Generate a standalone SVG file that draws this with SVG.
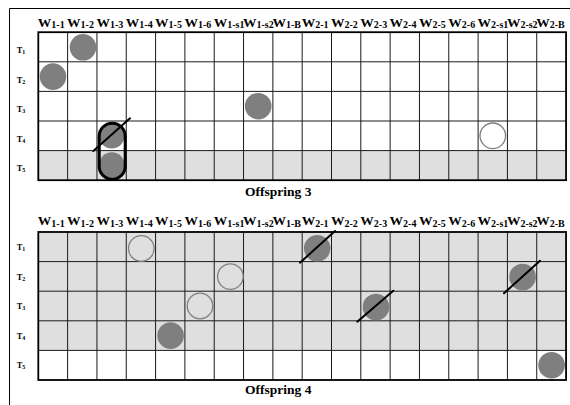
<svg xmlns="http://www.w3.org/2000/svg" width="570" height="405" viewBox="0 0 570 405">
  <style>
    .frame { fill: none; stroke: #000; stroke-width: 1; }
    .shade { fill: #dfdfdf; }
    .grid { stroke: #1a1a1a; stroke-width: 1; fill: none; }
    .border { fill: none; stroke: #000; stroke-width: 1.8; }
    .hdr { font-family: "Liberation Serif", "Times New Roman", serif; font-weight: bold; font-size: 13.5px; fill: #000; }
    .sub { font-size: 10px; }
    .row { font-family: "Liberation Serif", "Times New Roman", serif; font-weight: bold; font-size: 8.5px; fill: #000; }
    .rsub { font-size: 6px; }
    .title { font-family: "Liberation Serif", "Times New Roman", serif; font-weight: bold; font-size: 13.5px; fill: #000; }
    .dot { fill: #7f7f7f; }
    .ring { fill: none; stroke: #808080; stroke-width: 1.3; }
    .cut { stroke: #000; stroke-width: 2; stroke-linecap: round; }
    .pair { fill: none; stroke: #000; stroke-width: 3; }
  </style>
  <defs>
    <!-- 18 columns x 5 rows, cell 29.32 x 29.6 -->
    <g id="gridlines">
      <path class="grid" d="M67.62 0V148M96.94 0V148M126.26 0V148M155.58 0V148M184.9 0V148M214.22 0V148M243.54 0V148M272.86 0V148M302.18 0V148M331.5 0V148M360.82 0V148M390.14 0V148M419.46 0V148M448.78 0V148M478.1 0V148M507.42 0V148M536.74 0V148M38.3 29.6H566M38.3 59.2H566M38.3 88.8H566M38.3 118.4H566"/>
      <rect class="border" x="38.3" y="0" width="527.76" height="148"/>
    </g>
    <g id="colheads">
      <text class="hdr" x="37.8">W<tspan class="sub" dy="1.5">1-1</tspan></text>
      <text class="hdr" x="67.1">W<tspan class="sub" dy="1.5">1-2</tspan></text>
      <text class="hdr" x="96.4">W<tspan class="sub" dy="1.5">1-3</tspan></text>
      <text class="hdr" x="125.8">W<tspan class="sub" dy="1.5">1-4</tspan></text>
      <text class="hdr" x="155.1">W<tspan class="sub" dy="1.5">1-5</tspan></text>
      <text class="hdr" x="184.4">W<tspan class="sub" dy="1.5">1-6</tspan></text>
      <text class="hdr" x="213.7">W<tspan class="sub" dy="1.5">1-s1</tspan></text>
      <text class="hdr" x="243.0">W<tspan class="sub" dy="1.5">1-s2</tspan></text>
      <text class="hdr" x="272.4">W<tspan class="sub" dy="1.5">1-B</tspan></text>
      <text class="hdr" x="301.7">W<tspan class="sub" dy="1.5">2-1</tspan></text>
      <text class="hdr" x="331.0">W<tspan class="sub" dy="1.5">2-2</tspan></text>
      <text class="hdr" x="360.3">W<tspan class="sub" dy="1.5">2-3</tspan></text>
      <text class="hdr" x="389.6">W<tspan class="sub" dy="1.5">2-4</tspan></text>
      <text class="hdr" x="419.0">W<tspan class="sub" dy="1.5">2-5</tspan></text>
      <text class="hdr" x="448.3">W<tspan class="sub" dy="1.5">2-6</tspan></text>
      <text class="hdr" x="477.6">W<tspan class="sub" dy="1.5">2-s1</tspan></text>
      <text class="hdr" x="506.9">W<tspan class="sub" dy="1.5">2-s2</tspan></text>
      <text class="hdr" x="536.2">W<tspan class="sub" dy="1.5">2-B</tspan></text>
    </g>
  </defs>

  <!-- outer frame (top and left edges visible) -->
  <path class="frame" d="M9.5 420V8.5H580"/>

  <!-- Offspring 3 -->
  <g id="offspring3">
    <rect class="shade" x="38.3" y="150.6" width="527.76" height="29.6"/>
    <use href="#gridlines" transform="translate(0 32.2)"/>
    <use href="#colheads" transform="translate(0 26.5)"/>
    <g id="rows3">
      <text class="row" x="16.7" y="53">T<tspan class="rsub" dy="1">1</tspan></text>
      <text class="row" x="16.7" y="82.6">T<tspan class="rsub" dy="1">2</tspan></text>
      <text class="row" x="16.7" y="111.6">T<tspan class="rsub" dy="1">3</tspan></text>
      <text class="row" x="16.7" y="141.6">T<tspan class="rsub" dy="1">4</tspan></text>
      <text class="row" x="16.7" y="171.2">T<tspan class="rsub" dy="1">5</tspan></text>
    </g>
    <g id="marks3">
      <circle class="dot" cx="83" cy="47.3" r="13.3"/>
      <circle class="dot" cx="53" cy="76.6" r="13.3"/>
      <circle class="dot" cx="258.2" cy="106.2" r="13.3"/>
      <circle class="dot" cx="111.8" cy="135.6" r="12.8"/>
      <circle class="dot" cx="111.8" cy="165" r="12.8"/>
      <circle class="ring" cx="492.8" cy="135.8" r="12.8"/>
      <rect class="pair" x="99.2" y="123.2" width="26" height="56" rx="13"/>
      <line class="cut" x1="93.3" y1="151" x2="130" y2="118.3"/>
    </g>
    <text class="title" x="245" y="196">Offspring 3</text>
  </g>

  <!-- Offspring 4 -->
  <g id="offspring4">
    <rect class="shade" x="38.3" y="232" width="527.76" height="118.4"/>
    <use href="#gridlines" transform="translate(0 232)"/>
    <use href="#colheads" transform="translate(0 225)"/>
    <g id="rows4">
      <text class="row" x="16.7" y="250">T<tspan class="rsub" dy="1">1</tspan></text>
      <text class="row" x="16.7" y="279.6">T<tspan class="rsub" dy="1">2</tspan></text>
      <text class="row" x="16.7" y="309.2">T<tspan class="rsub" dy="1">3</tspan></text>
      <text class="row" x="16.7" y="338.8">T<tspan class="rsub" dy="1">4</tspan></text>
      <text class="row" x="16.7" y="368.4">T<tspan class="rsub" dy="1">5</tspan></text>
    </g>
    <g id="marks4">
      <circle class="ring" cx="141.3" cy="248.5" r="12.8"/>
      <circle class="dot" cx="317.2" cy="248.3" r="13.3"/>
      <circle class="ring" cx="230.4" cy="276.6" r="12.8"/>
      <circle class="dot" cx="522.6" cy="277" r="13.3"/>
      <circle class="ring" cx="200" cy="306" r="12.8"/>
      <circle class="dot" cx="376" cy="307" r="13.3"/>
      <circle class="dot" cx="170.6" cy="335.6" r="13.3"/>
      <circle class="dot" cx="551.6" cy="365.2" r="13.3"/>
      <line class="cut" x1="300" y1="262.7" x2="335" y2="231"/>
      <line class="cut" x1="504" y1="293.3" x2="540" y2="260.7"/>
      <line class="cut" x1="357.3" y1="321.7" x2="393.3" y2="290.7"/>
    </g>
    <text class="title" x="245" y="393.5">Offspring 4</text>
  </g>
</svg>
